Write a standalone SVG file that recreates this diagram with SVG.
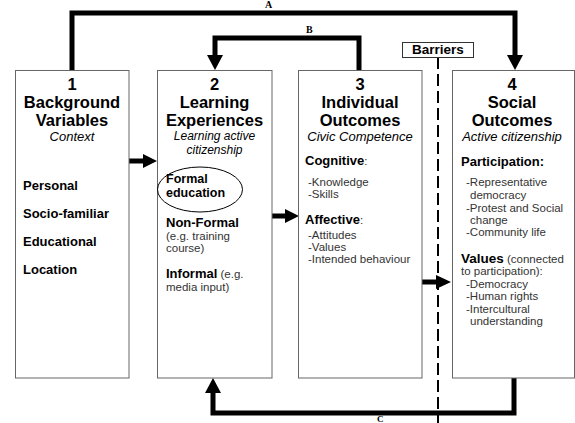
<svg xmlns="http://www.w3.org/2000/svg" width="575" height="423" viewBox="0 0 575 423">
<style>
text{font-family:"Liberation Sans",Arial,sans-serif;fill:#000}
.box{fill:#fff;stroke:#666;stroke-width:1}
.hd{font-size:16.5px;font-weight:bold;text-anchor:middle}
.it{font-size:13px;font-style:italic;text-anchor:middle}
.b{font-size:13px;font-weight:bold}
.s{font-size:11.5px;fill:#333;font-weight:normal}
.lbl{font-family:"Liberation Serif","Times New Roman",serif;font-weight:bold;font-size:10px}
.ln{fill:none;stroke:#000;stroke-width:5}
.hdp{fill:#000}
</style>
<rect width="575" height="423" fill="#fff"/>
<g id="connectors">
<path class="ln" d="M72,70 V13 H515 V56"/>
<polygon class="hdp" points="507,55 523,55 515,70"/>
<path class="ln" d="M359,70 V38 H215 V56"/>
<polygon class="hdp" points="207,55 223,55 215,70"/>
<path class="ln" d="M514,378 V413 H213 V392"/>
<polygon class="hdp" points="205,393 221,393 213,378"/>
<path d="M438,57 V423" stroke="#000" stroke-width="2" stroke-dasharray="12 5" fill="none"/>
<path class="ln" d="M129,161 H144"/>
<polygon class="hdp" points="143,154 157,161 143,168"/>
<path class="ln" d="M272,216 H287"/>
<polygon class="hdp" points="285,209 299,216 285,223"/>
<path class="ln" d="M422,282 H437"/>
<polygon class="hdp" points="436,275 451,282 436,289"/>
<text class="lbl" x="265" y="8">A</text>
<text class="lbl" x="306" y="33">B</text>
<text class="lbl" x="377" y="422" style="font-size:9px">C</text>
</g>
<g id="barriers">
<rect x="402.5" y="42.5" width="71" height="15" fill="#fff" stroke="#333" stroke-width="1"/>
<text x="438" y="54" style="font-size:13.5px;font-weight:bold;text-anchor:middle">Barriers</text>
</g>
<g id="node1">
<rect class="box" x="15.5" y="70.5" width="113.5" height="307.5"/>
<text class="hd" x="72" y="90">1</text>
<text class="hd" x="72" y="108">Background</text>
<text class="hd" x="72" y="126">Variables</text>
<text class="it" x="72" y="141">Context</text>
<text class="b" x="23" y="190">Personal</text>
<text class="b" x="23" y="218">Socio-familiar</text>
<text class="b" x="23" y="246">Educational</text>
<text class="b" x="23" y="274">Location</text>
</g>
<g id="node2">
<rect class="box" x="157.5" y="70.5" width="114.5" height="307.5"/>
<text class="hd" x="214.5" y="90">2</text>
<text class="hd" x="214.5" y="108">Learning</text>
<text class="hd" x="214.5" y="126">Experiences</text>
<text class="it" x="214.5" y="140" style="font-size:12px">Learning active</text>
<text class="it" x="214.5" y="154" style="font-size:12px">citizenship</text>
<ellipse cx="200" cy="189.5" rx="42.5" ry="22.5" fill="none" stroke="#000" stroke-width="1"/>
<text class="b" x="166" y="183" style="font-size:12.5px">Formal</text>
<text class="b" x="166" y="197" style="font-size:12.5px">education</text>
<text class="b" x="166" y="227">Non-Formal</text>
<text class="s" x="166" y="240">(e.g. training</text>
<text class="s" x="166" y="252">course)</text>
<text class="b" x="166" y="278">Informal<tspan class="s"> (e.g.</tspan></text>
<text class="s" x="166" y="291">media input)</text>
</g>
<g id="node3">
<rect class="box" x="298.5" y="70.5" width="123.5" height="307.5"/>
<text class="hd" x="360" y="90">3</text>
<text class="hd" x="360" y="108">Individual</text>
<text class="hd" x="360" y="126">Outcomes</text>
<text class="it" x="360" y="141">Civic Competence</text>
<text class="b" x="305" y="165">Cognitive<tspan class="s">:</tspan></text>
<text class="s" x="308" y="186">-Knowledge</text>
<text class="s" x="308" y="198">-Skills</text>
<text class="b" x="305" y="224">Affective<tspan class="s">:</tspan></text>
<text class="s" x="308" y="239">-Attitudes</text>
<text class="s" x="308" y="251">-Values</text>
<text class="s" x="308" y="263">-Intended behaviour</text>
</g>
<g id="node4">
<rect class="box" x="452.5" y="70.5" width="122" height="307.5"/>
<text class="hd" x="512" y="90">4</text>
<text class="hd" x="512" y="108">Social</text>
<text class="hd" x="512" y="126">Outcomes</text>
<text class="it" x="512" y="141">Active citizenship</text>
<text class="b" x="461" y="166">Participation:</text>
<text class="s" x="466" y="186">-Representative</text>
<text class="s" x="470" y="199">democracy</text>
<text class="s" x="466" y="212">-Protest and Social</text>
<text class="s" x="470" y="224">change</text>
<text class="s" x="466" y="236">-Community life</text>
<text class="b" x="461" y="263" style="font-size:13.5px">Values<tspan class="s"> (connected</tspan></text>
<text class="s" x="461" y="275">to participation):</text>
<text class="s" x="466" y="288">-Democracy</text>
<text class="s" x="466" y="300">-Human rights</text>
<text class="s" x="466" y="313">-Intercultural</text>
<text class="s" x="470" y="325">understanding</text>
</g>
</svg>
